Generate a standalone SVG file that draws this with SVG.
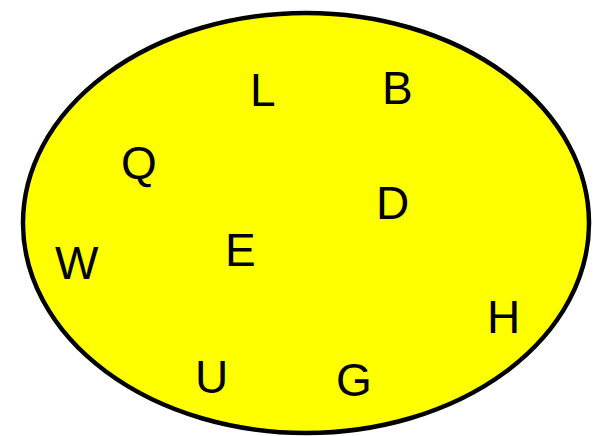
<svg xmlns="http://www.w3.org/2000/svg" width="599" height="436" viewBox="0 0 599 436">
<style>
.t{font-family:"Liberation Sans",Arial,sans-serif;font-size:46px;fill:#000}
</style>
<rect width="599" height="436" fill="#fff"/>
<g id="set"><ellipse cx="306" cy="223" rx="283" ry="210" fill="#ffff00" stroke="#000" stroke-width="4.5"/></g>
<g id="connectors"/>
<g id="L"><text class="t" x="250" y="106">L</text></g>
<g id="B"><text class="t" x="382" y="104">B</text></g>
<g id="Q"><text class="t" x="121" y="179">Q</text></g>
<g id="D"><text class="t" x="376" y="219">D</text></g>
<g id="E"><text class="t" x="225" y="266">E</text></g>
<g id="W"><text class="t" x="55" y="279">W</text></g>
<g id="H"><text class="t" x="487" y="333">H</text></g>
<g id="U"><text class="t" x="195" y="393">U</text></g>
<g id="G"><text class="t" x="336" y="396">G</text></g>
</svg>
